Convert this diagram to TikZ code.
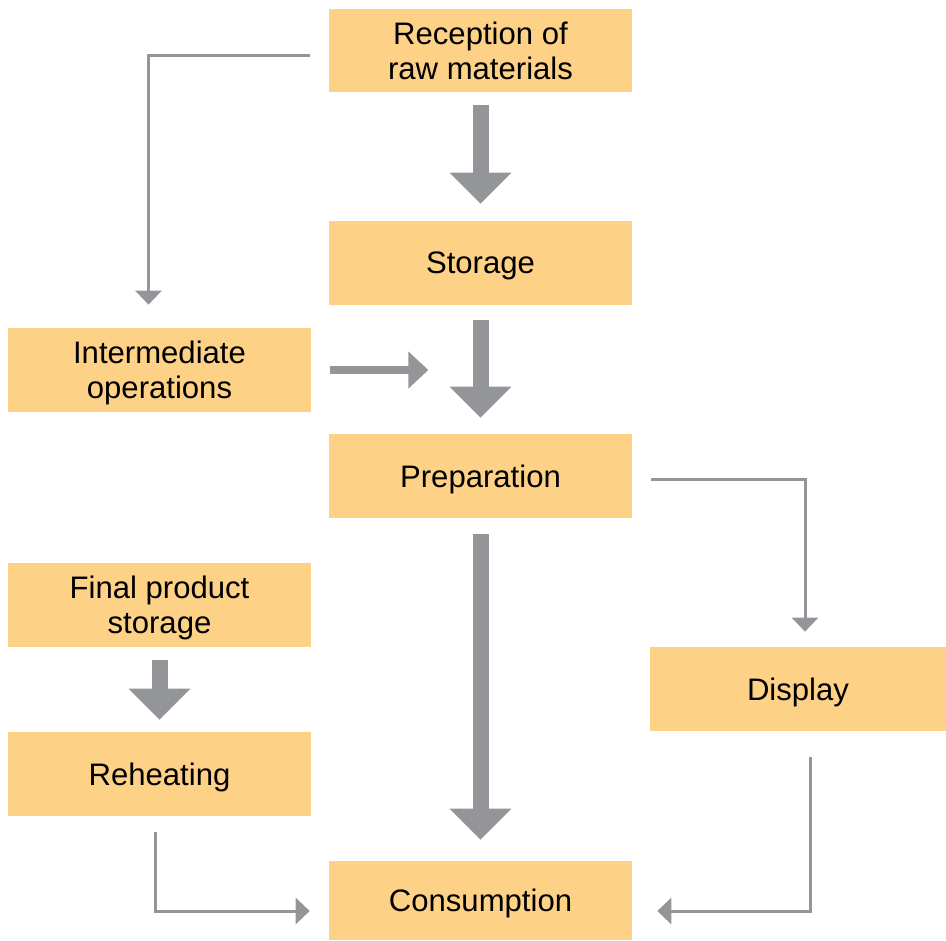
\documentclass[tikz,border=0pt]{standalone}
\usepackage{fontspec}
\setmainfont{Liberation Sans}
\usetikzlibrary{arrows.meta, calc, positioning}
\definecolor{color1}{RGB}{253,209,134}
\definecolor{color2}{RGB}{147,149,152}

\begin{document}
\begin{tikzpicture}[x=0.02cm, y=-0.02cm,
    box/.style={fill=color1, minimum width=6.06cm, minimum height=1.68cm, align=center, inner sep=0pt, text depth=0pt, font=\fontsize{17.7}{20}\selectfont},
    bigarrow/.style={color2, line width=0.32cm, -{Triangle[width=1.2cm, length=0.62cm]}},
    midarrow/.style={color2, line width=0.16cm, -{Triangle[width=0.72cm, length=0.4cm]}},
    thinarrow/.style={color2, line width=0.06cm, -{Triangle[width=0.52cm, length=0.28cm]}}]
        %\draw [step=50, very thin, lightgray] (0, 0) grid (946, 940);
        \useasboundingbox (0, 0) rectangle (946, 940);
        \node [box] (rec) at (480.5, 50.5) {Reception of\\raw materials};
        \node [box] (sto) at (480.5, 263) {Storage};
        \node [box] (inter) at (159.5, 370) {Intermediate\\operations};
        \node [box] (prep) at (480.5, 476) {Preparation};
        \node [box] (final) at (159.5, 605) {Final product\\storage};
        \node [box] (reheat) at (159.5, 774) {Reheating};
        \node [box, minimum width=5.92cm] (disp) at (798, 689) {Display};
        \node [box, minimum height=1.58cm] (cons) at (480.5, 900.5) {Consumption};
        % main line
        \draw [bigarrow, shorten <=0.24cm, shorten >=0.34cm] (rec) -- (sto);
        \draw [bigarrow, shorten <=0.3cm, shorten >=0.32cm] (sto) -- (prep);
        \draw [bigarrow, shorten <=0.32cm, shorten >=0.42cm] (prep) -- (cons);
        \draw [bigarrow, shorten <=0.26cm, shorten >=0.24cm] (final) -- (reheat);
        % side paths
        \draw [midarrow] ($(inter.east)+(19, 0)$) -- ++(98, 0);
        \draw [thinarrow] ($(rec.west)+(-19, 5)$) -| ($(inter.north)+(-11, -23)$);
        \draw [thinarrow] ($(prep.east)+(19, 3)$) -| ($(disp.north)+(7, -15)$);
        \draw [thinarrow] ($(reheat.south)+(-4, 16)$) |- ($(cons.west)+(-19, 10.5)$);
        \draw [thinarrow] ($(disp.south)+(12, 26)$) |- ($(cons.east)+(25, 10.5)$);
    \end{tikzpicture}
\end{document}
